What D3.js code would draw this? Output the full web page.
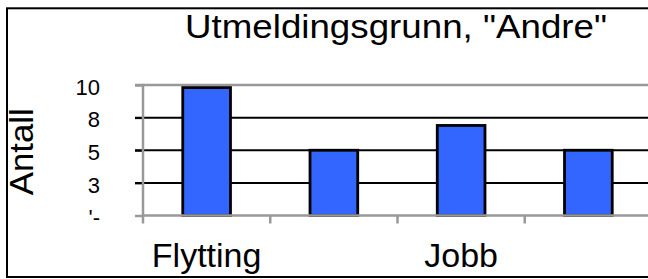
<!DOCTYPE html>
<html>
<head>
<meta charset="utf-8">
<script src="https://cdn.jsdelivr.net/npm/d3@7"></script>
<style>
  body { margin: 0; background: #fff; }
  svg { display: block; font-family: "Liberation Sans", Arial, sans-serif; }
</style>
</head>
<body>
<svg id="chart"></svg>
<script>
// data
const categories = ["c1", "c2", "c3", "c4"];
const categoryLabels = ["Flytting", "", "Jobb", ""];
const values = [9.8, 5, 6.9, 5];
const yTicks = [0, 2.5, 5, 7.5, 10];
const yTickLabels = ["'-", "3", "5", "8", "10"];
const title = 'Utmeldingsgrunn, "Andre"';
const yTitle = "Antall";

const W = 648, H = 279;
const plot = {left: 143, right: 652, top: 85, bottom: 215.5};

const svg = d3.select("#chart")
    .attr("width", W)
    .attr("height", H);

// outer chart border (cropped on the right)
svg.append("rect")
    .attr("x", 7).attr("y", 8.3)
    .attr("width", 700).attr("height", 268.7)
    .attr("fill", "#fff")
    .attr("stroke", "#000")
    .attr("stroke-width", 2);

const x = d3.scaleBand()
    .domain(categories)
    .range([plot.left, plot.right])
    .padding(0);

const y = d3.scaleLinear()
    .domain([0, 10])
    .range([plot.bottom, plot.top]);

// gridlines
svg.append("g")
    .selectAll("line")
    .data(yTicks.filter(d => d > 0))
    .enter().append("line")
    .attr("x1", plot.left - 8)
    .attr("x2", W + 10)
    .attr("y1", d => y(d))
    .attr("y2", d => y(d))
    .attr("stroke", d => d === 10 ? "#999" : "#000")
    .attr("stroke-width", d => d === 10 ? 2.5 : 2);

// bars
const barW = x.bandwidth() * 0.375;
svg.append("g")
    .selectAll("rect")
    .data(values)
    .enter().append("rect")
    .attr("x", (d, i) => x(categories[i]) + x.bandwidth() / 2 - barW / 2)
    .attr("y", d => y(d))
    .attr("width", barW)
    .attr("height", d => y(0) - y(d))
    .attr("fill", "#3366ff")
    .attr("stroke", "#000")
    .attr("stroke-width", 2.8);

// y axis
const yAxis = svg.append("g")
    .attr("transform", `translate(${plot.left},0)`)
    .call(d3.axisLeft(y)
        .tickValues(yTicks)
        .tickSize(8)
        .tickPadding(35)
        .tickFormat((d, i) => yTickLabels[i]));
yAxis.select(".domain").remove();
yAxis.selectAll(".tick line").attr("stroke", "#999").attr("stroke-width", 2.5);
yAxis.selectAll(".tick line").filter(d => d > 0 && d < 10).attr("stroke", "#000").attr("stroke-width", 2);
yAxis.selectAll("text")
    .attr("dy", "0.42em")
    .style("font-size", "22px")
    .style("font-family", "'Liberation Sans', Arial, sans-serif")
    .style("fill", "#000");

svg.append("line")
    .attr("x1", plot.left).attr("x2", plot.left)
    .attr("y1", plot.top - 1.2).attr("y2", plot.bottom)
    .attr("stroke", "#999").attr("stroke-width", 2.5);

// x axis
const xAxis = svg.append("g")
    .attr("transform", `translate(0,${plot.bottom})`)
    .call(d3.axisBottom(x)
        .tickSize(0)
        .tickPadding(31)
        .tickFormat((d, i) => categoryLabels[i]));
xAxis.select(".domain").remove();
xAxis.selectAll("text")
    .attr("dy", "0.6em")
    .style("font-size", "34px")
    .style("font-family", "'Liberation Sans', Arial, sans-serif")
    .style("fill", "#000");

svg.append("line")
    .attr("x1", plot.left - 1).attr("x2", W + 10)
    .attr("y1", plot.bottom).attr("y2", plot.bottom)
    .attr("stroke", "#999").attr("stroke-width", 2.5);

// category boundary ticks
const bounds = categories.map(c => x(c)).concat([plot.right]);
svg.append("g")
    .selectAll("line")
    .data(bounds)
    .enter().append("line")
    .attr("x1", d => d).attr("x2", d => d)
    .attr("y1", plot.bottom).attr("y2", plot.bottom + 8)
    .attr("stroke", "#999").attr("stroke-width", 2.5);

// title
svg.append("text")
    .attr("x", 185)
    .attr("y", 38)
    .attr("textLength", 422)
    .attr("lengthAdjust", "spacingAndGlyphs")
    .style("font-size", "33px")
    .text(title);

// y axis title
svg.append("text")
    .attr("transform", `translate(33,${(plot.top + plot.bottom) / 2 + 1.5}) rotate(-90)`)
    .attr("text-anchor", "middle")
    .attr("textLength", 87)
    .attr("lengthAdjust", "spacingAndGlyphs")
    .style("font-size", "33px")
    .text(yTitle);
</script>
</body>
</html>
